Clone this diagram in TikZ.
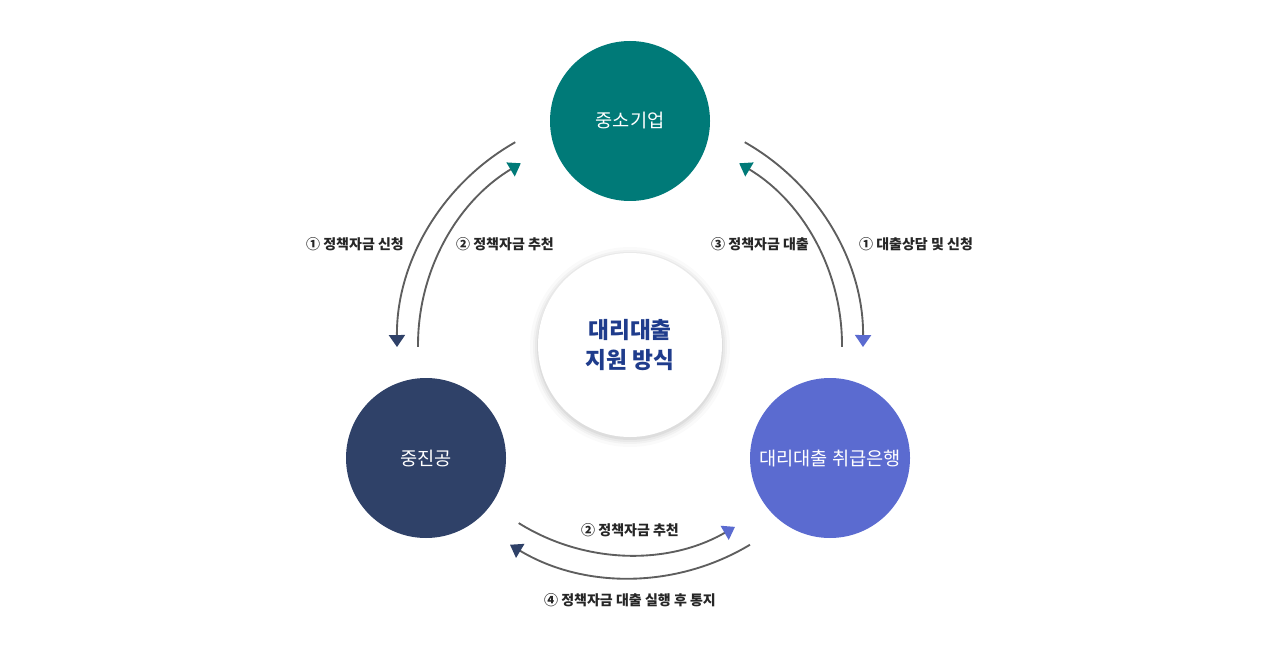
\documentclass[tikz,border=0pt]{standalone}
\usepackage{fontspec}
\setmainfont{Noto Sans CJK KR}
\usetikzlibrary{arrows.meta}
\definecolor{teal}{HTML}{007A78}
\definecolor{navy}{HTML}{2F4168}
\definecolor{bankblue}{HTML}{5B6BD0}
\definecolor{titleblue}{HTML}{1F3C8C}
\definecolor{linegray}{HTML}{5E5E5E}
\tikzset{
  party/.style={circle,minimum size=120pt,inner sep=0pt,text=white,font=\fontsize{14}{16}\selectfont},
  flow/.style={draw=linegray,line width=1.4pt},
  lbl/.style={inner sep=0.75pt,text=black!85,font=\bfseries\fontsize{10.5}{12}\selectfont},
}
\begin{document}
\begin{tikzpicture}[x=0.75pt,y=0.75pt,yscale=-1,xscale=1]
		\useasboundingbox (0,0) rectangle (1280,659);
		% shadow of the centre disc
		\foreach \r/\o in {100/0.02,97/0.03,95/0.04,93/0.05}
			\fill [black,opacity=\o] (630,347) circle (\r);
		\node [circle,fill=white,minimum size=138pt,inner sep=0pt,align=center,text=titleblue,font=\bfseries\fontsize{17}{22}\selectfont] (hub) at (630,345) {대리대출\\지원 방식};
		\node [party,fill=teal] (sme) at (630,121) {중소기업};
		\node [party,fill=navy] (kosmes) at (426,458) {중진공};
		\node [party,fill=bankblue] (bank) at (830,458) {대리대출 취급은행};
		% left pair
		\draw [flow,-{Triangle[width=12pt,length=9pt,color=navy]}] (hub.center) ++(-119.5:233) arc[start angle=-119.5,end angle=-180.5,radius=233];
		\draw [flow,-{Triangle[width=12pt,length=9pt,color=teal]}] (hub.center) ++(-180.5:212) arc[start angle=-180.5,end angle=-121,radius=212];
		% right pair
		\draw [flow,-{Triangle[width=12pt,length=9pt,color=bankblue]}] (hub.center) ++(-60.5:233) arc[start angle=-60.5,end angle=0.5,radius=233];
		\draw [flow,-{Triangle[width=12pt,length=9pt,color=teal]}] (hub.center) ++(0.5:212) arc[start angle=0.5,end angle=-59,radius=212];
		% bottom pair
		\draw [flow,-{Triangle[width=12pt,length=9pt,color=bankblue]}] (hub.center) ++(122:210) arc[start angle=122,end angle=60,radius=210];
		\draw [flow,-{Triangle[width=12pt,length=9pt,color=navy]}] (hub.center) ++(59:233) arc[start angle=59,end angle=121,radius=233];
		\node [lbl] (l1) at (355,244) {① 정책자금 신청};
		\node [lbl] (l2) at (505,244) {② 정책자금 추천};
		\node [lbl] (l3) at (760,244) {③ 정책자금 대출};
		\node [lbl] (l4) at (916,244) {① 대출상담 및 신청};
		\node [lbl] (l5) at (630,530) {② 정책자금 추천};
		\node [lbl] (l6) at (630,600) {④ 정책자금 대출 실행 후 통지};
		\end{tikzpicture}
\end{document}
